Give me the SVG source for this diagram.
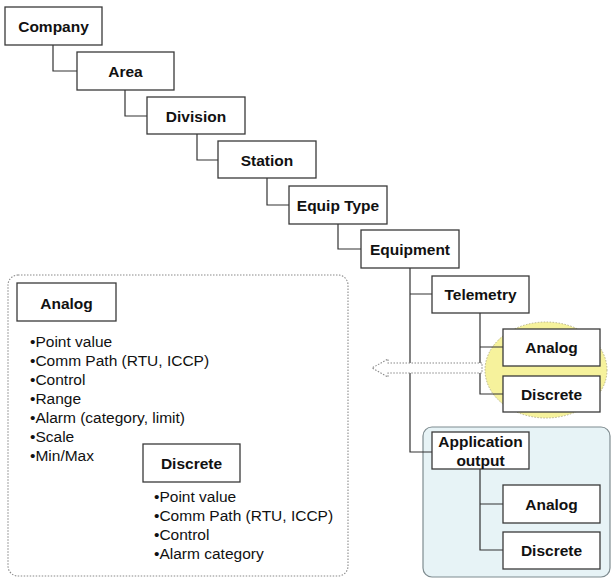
<svg xmlns="http://www.w3.org/2000/svg" width="615" height="578" viewBox="0 0 615 578">
  <style>
    .box { fill: #ffffff; stroke: #3a3a3a; stroke-width: 1.3; }
    .lbl { font-family: "Liberation Sans", Arial, sans-serif; font-size: 15.5px; font-weight: bold; fill: #111111; text-anchor: middle; }
    .bul { font-family: "Liberation Sans", Arial, sans-serif; font-size: 15.5px; fill: #111111; }
    .wire { fill: none; stroke: #333333; stroke-width: 1.2; }
  </style>

  <rect width="615" height="578" fill="#ffffff"/>

  <!-- backdrop shapes -->
  <g id="backdrops">
    <rect x="8" y="275" width="340" height="301" rx="10" fill="#ffffff" stroke="#8a8a8a" stroke-width="1.1" stroke-dasharray="1.5 1.5"/>
    <ellipse cx="546" cy="370" rx="61" ry="48" fill="#f6f29c" stroke="#b8b48a" stroke-width="1" stroke-dasharray="1.5 1.5"/>
    <rect x="423" y="427" width="187" height="150" rx="9" fill="#e7f3f6" stroke="#7f8c90" stroke-width="1.2"/>
  </g>

  <!-- connectors -->
  <g id="connectors">
    <path class="wire" d="M53 45 V71 H77"/>
    <path class="wire" d="M125 90 V116 H147"/>
    <path class="wire" d="M197 134 V160 H218"/>
    <path class="wire" d="M267 178 V205 H289"/>
    <path class="wire" d="M338 224 V249 H361"/>
    <path class="wire" d="M410 268 V452 H432 M410 294 H432"/>
    <path class="wire" d="M480 313 V394 H503 M480 347 H503"/>
    <path class="wire" d="M480 469 V550 H503 M480 504 H503"/>
    <!-- hollow dotted arrow pointing to the detail panel -->
    <path d="M482 363 H388 V359 L372 368 L388 377 V373 H482 Z" fill="#ffffff" stroke="#8a8a8a" stroke-width="1.1" stroke-dasharray="1.5 1.5"/>
  </g>

  <g id="company">
    <rect class="box" x="5" y="7" width="97" height="38"/>
    <text class="lbl" x="53.5" y="32">Company</text>
  </g>
  <g id="area">
    <rect class="box" x="77" y="52" width="97" height="38"/>
    <text class="lbl" x="125.5" y="77">Area</text>
  </g>
  <g id="division">
    <rect class="box" x="147" y="97" width="98" height="37"/>
    <text class="lbl" x="196" y="121.5">Division</text>
  </g>
  <g id="station">
    <rect class="box" x="218" y="141" width="98" height="37"/>
    <text class="lbl" x="267" y="165.5">Station</text>
  </g>
  <g id="equip-type">
    <rect class="box" x="289" y="186" width="98" height="38"/>
    <text class="lbl" x="338" y="211">Equip Type</text>
  </g>
  <g id="equipment">
    <rect class="box" x="361" y="230" width="98" height="38"/>
    <text class="lbl" x="410" y="255">Equipment</text>
  </g>
  <g id="telemetry">
    <rect class="box" x="432" y="276" width="97" height="37"/>
    <text class="lbl" x="480.5" y="300">Telemetry</text>
  </g>
  <g id="telemetry-analog">
    <rect class="box" x="503" y="329" width="97" height="37"/>
    <text class="lbl" x="551.5" y="353">Analog</text>
  </g>
  <g id="telemetry-discrete">
    <rect class="box" x="503" y="376" width="97" height="36"/>
    <text class="lbl" x="551.5" y="400">Discrete</text>
  </g>
  <g id="application-output">
    <rect class="box" x="432" y="432" width="97" height="37"/>
    <text class="lbl" x="480.5" y="447">Application</text>
    <text class="lbl" x="480.5" y="466">output</text>
  </g>
  <g id="application-analog">
    <rect class="box" x="503" y="485" width="97" height="38"/>
    <text class="lbl" x="551.5" y="510">Analog</text>
  </g>
  <g id="application-discrete">
    <rect class="box" x="503" y="532" width="97" height="37"/>
    <text class="lbl" x="551.5" y="556">Discrete</text>
  </g>

  <!-- detail panel: attribute lists -->
  <g id="detail-analog">
    <rect class="box" x="17" y="283" width="99" height="38"/>
    <text class="lbl" x="66.5" y="309">Analog</text>
    <text class="bul" x="30" y="347">•Point value</text>
    <text class="bul" x="30" y="366">•Comm Path (RTU, ICCP)</text>
    <text class="bul" x="30" y="385">•Control</text>
    <text class="bul" x="30" y="404">•Range</text>
    <text class="bul" x="30" y="423">•Alarm (category, limit)</text>
    <text class="bul" x="30" y="442">•Scale</text>
    <text class="bul" x="30" y="461">•Min/Max</text>
  </g>
  <g id="detail-discrete">
    <rect class="box" x="143" y="444" width="97" height="38"/>
    <text class="lbl" x="191.5" y="469">Discrete</text>
    <text class="bul" x="154" y="502">•Point value</text>
    <text class="bul" x="154" y="521">•Comm Path (RTU, ICCP)</text>
    <text class="bul" x="154" y="540">•Control</text>
    <text class="bul" x="154" y="559">•Alarm category</text>
  </g>
</svg>
